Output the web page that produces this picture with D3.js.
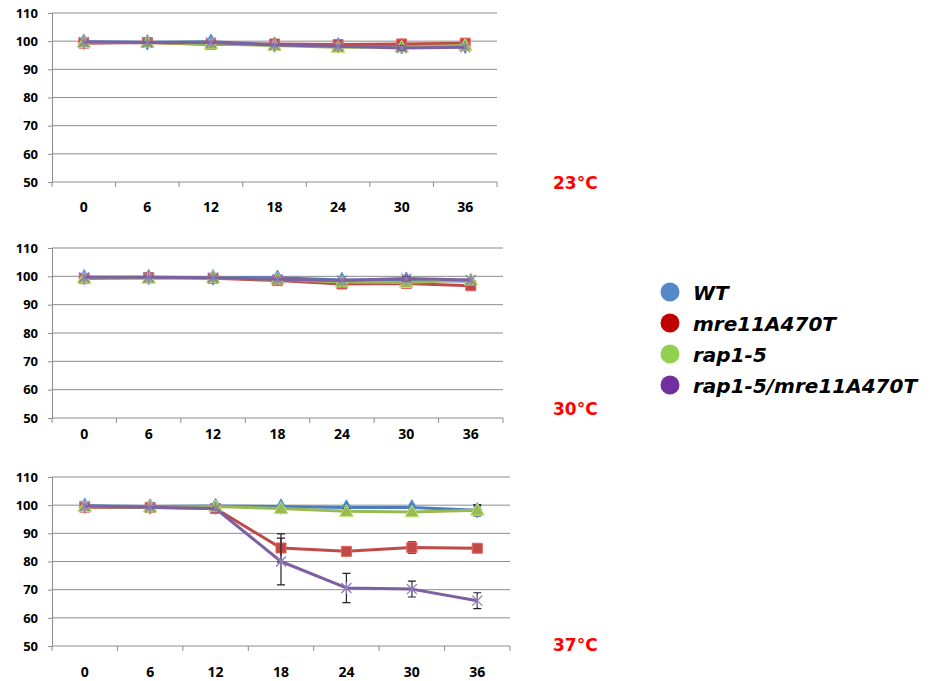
<!DOCTYPE html>
<html>
<head>
<meta charset="utf-8">
<script src="https://cdn.jsdelivr.net/npm/d3@7"></script>
<style>
  body { margin: 0; background: #fff; }
  svg { font-family: "Open Sans", "Noto Sans", sans-serif; }
</style>
</head>
<body>
<svg id="drawing_region"></svg>
<script>
// hours after shift
const times = ['0', '6', '12', '18', '24', '30', '36'];
const yTicks = [50, 60, 70, 80, 90, 100, 110];
const strains = ['WT', 'mre11A470T', 'rap1-5', 'rap1-5/mre11A470T'];
const temps = ['23°C', '30°C', '37°C'];

// 23°C
const wt23 = [99.8, 99.6, 99.8, 98.8, 98.5, 98.2, 98.4];
const mre23 = [99.3, 99.5, 98.8, 99.0, 98.8, 99.0, 99.3];
const rap23 = [99.5, 99.5, 99.0, 98.5, 97.8, 97.9, 98.5];
const dbl23 = [99.7, 99.5, 99.5, 98.6, 98.2, 97.6, 97.8];
const wt23Err = [0, 0, 0, 0, 0, 0, 0];
const mre23Err = [0, 0, 0, 0, 0, 0.6, 0];
const rap23Err = [0, 0, 0, 0, 0, 0, 0];
const dbl23Err = [0, 0, 0, 0, 0, 0.8, 0];

// 30°C
const wt30 = [99.7, 99.7, 99.6, 99.5, 98.7, 98.8, 98.3];
const mre30 = [99.2, 99.6, 99.3, 98.5, 97.3, 97.5, 96.7];
const rap30 = [99.4, 99.3, 99.5, 99.0, 98.0, 97.8, 98.7];
const dbl30 = [99.7, 99.7, 99.5, 99.0, 98.5, 99.2, 98.7];
const wt30Err = [0, 0, 0, 0, 0, 0, 0];
const mre30Err = [0, 0, 0, 0, 0, 0, 0];
const rap30Err = [0, 0, 0, 0, 0, 0, 0];
const dbl30Err = [0, 0, 0, 0, 0, 0.8, 0];

// 37°C
const wt37 = [99.8, 99.5, 99.7, 99.5, 99.2, 99.2, 98.2];
const mre37 = [99.3, 99.2, 98.8, 84.8, 83.6, 85.0, 84.7];
const rap37 = [99.5, 99.3, 99.5, 98.8, 97.8, 97.6, 98.2];
const dbl37 = [99.7, 99.3, 98.8, 80.0, 70.6, 70.2, 66.1];
const wt37Err = [0, 0, 0, 0, 0.5, 0, 2.0];
const mre37Err = [0, 0, 0, 5.0, 0, 2.0, 0];
const rap37Err = [0, 0, 0, 0, 1.0, 0, 1.5];
const dbl37Err = [0, 0, 0, 8.3, 5.2, 2.8, 2.8];

const lineColors = ['#4a7ebb', '#be4b48', '#98b954', '#7d60a0'];
const legendColors = ['#5588c8', '#c00000', '#92d050', '#7030a0'];
const markers = ['diamond', 'square', 'triangle', 'star'];

class LinePanel {

    constructor(config, series) {
        this.config = config;
        this.series = series;
        this.init();
    }

    init() {
        let self = this;
        const c = self.config;

        self.chart = c.svg.append('g');

        self.xscale = d3.scaleBand()
            .domain(times)
            .range([c.left, c.right]);
        self.yscale = d3.scaleLinear()
            .domain([50, 110])
            .range([c.bottom, c.top]);
    }

    render() {
        let self = this;
        const c = self.config;

        // gridlines
        self.chart.append('g')
            .selectAll('line').data(yTicks.filter(d => d > 50))
            .join('line')
            .attr('x1', c.left).attr('x2', c.right)
            .attr('y1', d => self.yscale(d)).attr('y2', d => self.yscale(d))
            .attr('stroke', '#8c8c8c').attr('stroke-width', 1);

        // y axis
        const yaxis = d3.axisLeft(self.yscale).tickValues(yTicks).tickSize(4).tickPadding(10);
        const yg = self.chart.append('g')
            .attr('transform', `translate(${c.left},0)`)
            .call(yaxis);
        yg.select('.domain').attr('stroke', '#8c8c8c');
        yg.selectAll('.tick line').attr('stroke', '#8c8c8c');
        yg.selectAll('.tick text')
            .attr('font-size', 13).attr('font-weight', 700).attr('fill', '#000')
            .attr('font-family', '"Open Sans", sans-serif');

        // x axis: ticks sit on band edges
        const xg = self.chart.append('g')
            .attr('transform', `translate(0,${c.bottom})`);
        xg.append('line')
            .attr('x1', c.left).attr('x2', c.right)
            .attr('stroke', '#8c8c8c');
        const edges = times.map(t => self.xscale(t)).concat([c.right]);
        xg.selectAll('line.tk').data(edges)
            .join('line').attr('class', 'tk')
            .attr('x1', d => d).attr('x2', d => d)
            .attr('y1', 0).attr('y2', 5)
            .attr('stroke', '#8c8c8c');
        xg.selectAll('text').data(times)
            .join('text')
            .attr('x', d => self.xscale(d) + self.xscale.bandwidth() / 2)
            .attr('y', c.labelY - c.bottom)
            .attr('text-anchor', 'middle')
            .attr('font-size', 14).attr('font-weight', 700)
            .text(d => d);

        const cx = t => self.xscale(t) + self.xscale.bandwidth() / 2;
        const line = d3.line()
            .x((d, i) => cx(times[i]))
            .y(d => self.yscale(d));

        self.series.forEach((s, k) => {
            const g = self.chart.append('g');

            // error bars
            const eb = s.values.map((v, i) => ({ t: times[i], v: v, e: s.err[i] })).filter(d => d.e > 0);
            g.selectAll('path.err').data(eb)
                .join('path').attr('class', 'err')
                .attr('d', d => {
                    const x = cx(d.t), y1 = self.yscale(d.v + d.e), y2 = self.yscale(d.v - d.e);
                    return `M${x - 4},${y1}H${x + 4}M${x},${y1}V${y2}M${x - 4},${y2}H${x + 4}`;
                })
                .attr('stroke', '#222').attr('stroke-width', 1.2).attr('fill', 'none');

            g.append('path')
                .datum(s.values)
                .attr('d', line)
                .attr('fill', 'none')
                .attr('stroke', lineColors[k])
                .attr('stroke-width', 3)
                .attr('stroke-linejoin', 'round');

            const pts = g.selectAll('g.pt').data(s.values)
                .join('g').attr('class', 'pt')
                .attr('transform', (d, i) => `translate(${cx(times[i])},${self.yscale(d)})`);

            const m = markers[k];
            if (m === 'star') {
                pts.append('path')
                    .attr('d', 'M-5,-5L5,5M-5,5L5,-5M0,-6V6')
                    .attr('stroke', '#8f7ab8').attr('stroke-width', 1.3).attr('fill', 'none');
            } else {
                const type = m === 'diamond' ? d3.symbolDiamond : m === 'square' ? d3.symbolSquare : d3.symbolTriangle;
                const size = m === 'diamond' ? 70 : m === 'square' ? 100 : 80;
                pts.append('path')
                    .attr('d', d3.symbol().type(type).size(size))
                    .attr('transform', m === 'triangle' ? 'translate(0,1)' : null)
                    .attr('fill', lineColors[k])
                    .attr('stroke', d3.color(lineColors[k]).brighter(0.6))
                    .attr('stroke-width', 1);
            }
        });

        // temperature label
        c.svg.append('text')
            .attr('x', 553).attr('y', c.tempY)
            .attr('font-family', '"DejaVu Sans", sans-serif')
            .attr('font-size', 17).attr('font-weight', 700)
            .attr('fill', '#ff0000')
            .text(c.temp);
    }
}

const svg = d3.select('#drawing_region')
    .attr('width', 936)
    .attr('height', 681);

const panels = [
    { temp: temps[0], top: 13, bottom: 182, left: 52, right: 497, labelY: 212, tempY: 189,
      vals: [wt23, mre23, rap23, dbl23], errs: [wt23Err, mre23Err, rap23Err, dbl23Err] },
    { temp: temps[1], top: 248, bottom: 418, left: 52, right: 503, labelY: 439, tempY: 415,
      vals: [wt30, mre30, rap30, dbl30], errs: [wt30Err, mre30Err, rap30Err, dbl30Err] },
    { temp: temps[2], top: 477, bottom: 646, left: 52, right: 510, labelY: 677, tempY: 651,
      vals: [wt37, mre37, rap37, dbl37], errs: [wt37Err, mre37Err, rap37Err, dbl37Err] }
];

panels.forEach(p => {
    const series = strains.map((name, k) => ({ name: name, values: p.vals[k], err: p.errs[k] }));
    const panel = new LinePanel({
        svg: svg, top: p.top, bottom: p.bottom, left: p.left, right: p.right,
        labelY: p.labelY, tempY: p.tempY, temp: p.temp
    }, series);
    panel.render();
});

// legend
const legendY = [292, 323, 354, 385];
const legend = svg.append('g');
legend.selectAll('circle').data(strains)
    .join('circle')
    .attr('cx', 670).attr('cy', (d, i) => legendY[i])
    .attr('r', 9.5)
    .attr('fill', (d, i) => legendColors[i]);
legend.selectAll('text').data(strains)
    .join('text')
    .attr('x', 693).attr('y', (d, i) => legendY[i] + 8)
    .attr('font-family', '"DejaVu Sans", sans-serif')
    .attr('font-size', 20).attr('font-weight', 700).attr('font-style', 'italic')
    .text(d => d);
</script>
</body>
</html>
